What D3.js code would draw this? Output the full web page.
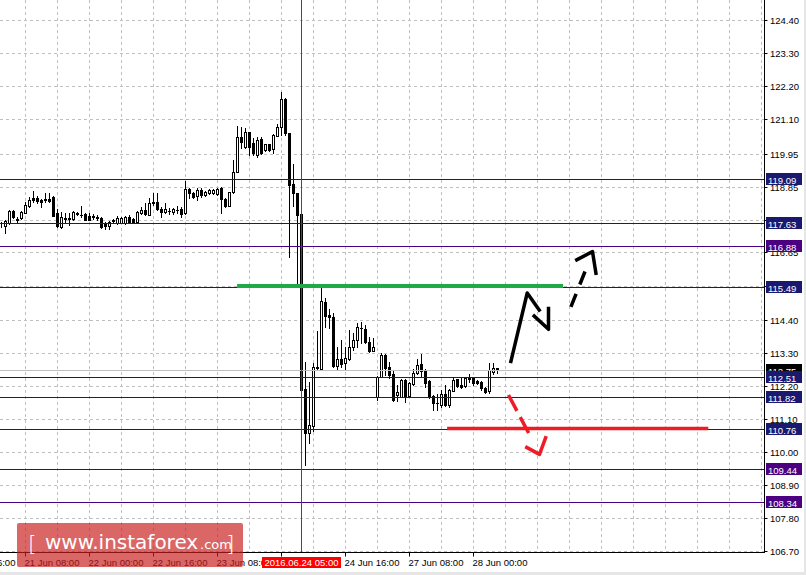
<!DOCTYPE html>
<html>
<head>
<meta charset="utf-8">
<script src="https://cdn.jsdelivr.net/npm/d3@7/dist/d3.min.js"></script>
<style>
  body { margin: 0; background: #fff; }
  svg { display: block; font-family: "Liberation Sans", Arial, sans-serif; }
</style>
</head>
<body>
<script>
// USDJPY H1, 21-28 Jun 2016 (bar 0 = 21 Jun 02:00)
var opens = [
  117.62,117.53,117.62,118.04,117.77,117.79,117.98,118.20,118.46,118.47,
  118.40,118.43,118.43,118.51,117.96,117.51,117.81,117.81,117.76,117.98,
  117.91,117.92,117.87,117.86,117.84,117.81,117.62,117.54,117.71,117.64,
  117.64,117.64,117.84,117.76,117.68,117.98,118.07,117.90,118.34,118.32,
  118.10,117.99,118.04,117.99,118.06,118.10,117.96,118.76,118.62,118.53,
  118.73,118.57,118.62,118.62,118.60,118.79,118.42,118.21,118.66,119.34,
  120.49,120.16,120.66,120.29,119.90,120.43,120.07,120.26,120.09,120.54,
  120.82,121.76,120.62,118.92,118.62,117.93,112.09,110.64,110.88,112.81,
  112.76,115.01,114.57,114.51,112.88,113.09,112.96,113.09,113.49,113.73,
  114.13,114.09,113.68,113.38,111.82,112.51,113.23,112.82,112.60,111.90,
  111.84,112.40,111.87,112.26,112.62,112.93,112.73,112.37,111.87,111.63,
  111.57,111.93,111.57,112.04,112.42,112.23,112.21,112.44,112.46,112.37,
  112.33,112.14,112.04,112.68,112.79
];
var highs = [
  117.68,117.73,118.07,118.07,117.83,118.03,118.34,118.51,118.70,118.53,
  118.43,118.64,118.62,118.53,118.09,118.01,117.98,117.96,118.03,118.01,
  118.20,117.98,117.96,117.92,117.90,117.83,117.68,117.71,117.76,117.87,
  117.83,117.87,117.89,117.79,118.03,118.18,118.29,118.46,118.62,118.62,
  118.18,118.29,118.12,118.14,118.20,118.18,119.04,118.79,118.67,118.79,
  118.79,118.70,118.77,118.78,118.80,118.82,118.46,118.67,119.73,120.87,
  120.84,120.79,120.68,120.46,120.49,120.49,120.27,120.27,120.59,120.92,
  122.01,121.80,120.63,119.59,118.63,118.00,113.01,112.34,112.97,114.02,
  115.49,115.12,114.76,114.62,113.51,113.73,113.51,114.07,113.96,114.31,
  114.34,114.23,113.84,113.79,112.53,113.31,113.27,113.00,112.73,112.23,
  112.42,112.42,112.32,112.76,113.09,113.27,112.77,112.40,111.90,111.93,
  112.07,112.23,112.10,112.46,112.44,112.46,112.49,112.60,112.47,112.40,
  112.36,112.17,112.96,112.98,112.80
];
var lows = [
  117.49,117.31,117.60,117.79,117.67,117.77,117.97,118.17,118.34,118.29,
  118.18,118.34,118.33,117.87,117.51,117.48,117.68,117.57,117.73,117.90,
  117.84,117.72,117.72,117.76,117.74,117.46,117.42,117.42,117.64,117.60,
  117.62,117.60,117.62,117.62,117.66,117.92,117.90,117.89,118.23,118.08,
  117.84,117.96,117.92,117.94,117.97,117.84,117.93,118.48,118.46,118.40,
  118.51,118.53,118.60,118.60,118.57,117.96,118.18,118.20,118.63,119.32,
  120.12,120.13,119.90,119.90,119.84,119.93,120.04,120.04,119.96,120.53,
  120.57,120.57,116.51,118.20,115.57,112.00,109.57,110.31,110.71,112.73,
  112.73,114.18,114.12,112.84,112.76,112.84,112.73,113.07,113.40,113.51,
  113.62,113.62,113.34,113.37,111.73,112.49,112.57,112.47,111.71,111.71,
  111.82,111.68,111.84,112.23,112.60,112.51,112.18,111.79,111.40,111.40,
  111.49,111.54,111.51,112.03,112.18,112.13,112.18,112.34,112.23,112.27,
  112.07,111.98,111.98,112.60,112.62
];
var closes = [
  117.63,117.70,118.04,117.82,117.73,118.01,118.23,118.40,118.40,118.38,
  118.34,118.40,118.38,117.88,117.54,117.82,117.76,117.76,118.01,117.92,
  117.90,117.73,117.73,117.84,117.79,117.51,117.54,117.68,117.72,117.79,
  117.81,117.84,117.64,117.68,117.99,118.07,117.93,118.29,118.29,118.10,
  117.99,118.09,118.03,118.10,118.07,117.92,118.76,118.62,118.51,118.73,
  118.57,118.66,118.73,118.73,118.77,118.42,118.21,118.66,119.34,120.49,
  120.32,120.66,120.16,119.96,120.40,119.96,120.26,120.07,120.57,120.82,
  121.76,120.62,118.90,118.62,117.90,112.07,110.64,110.90,112.84,112.84,
  115.04,114.54,114.49,112.88,113.09,112.93,113.14,113.51,113.73,114.16,
  114.12,113.68,113.38,113.49,112.51,113.23,112.79,112.57,111.73,112.01,
  112.40,111.87,112.30,112.64,112.90,112.71,112.29,111.87,111.64,111.62,
  111.93,111.57,112.07,112.40,112.21,112.18,112.46,112.46,112.31,112.29,
  112.12,112.01,112.73,112.79,112.75
];

var priceTicks = [124.40, 123.30, 122.20, 121.10, 119.95, 118.85, 117.75, 116.65, 115.55,
                  114.40, 113.30, 112.20, 111.10, 110.00, 108.90, 107.80, 106.70];
var timeTickBars = [-10, 6, 22, 38, 54, 70, 86, 102, 118];
var timeTickLabels = ["20 Jun 16:00", "21 Jun 08:00", "22 Jun 00:00", "22 Jun 16:00", "23 Jun 08:00",
                      "24 Jun 00:00", "24 Jun 16:00", "27 Jun 08:00", "28 Jun 00:00"];

var blueLevels = [119.09, 117.63, 115.49, 112.51, 111.82, 110.76];
var purpleLevels = [116.88, 109.44, 108.34];

var crossBar = 75, crossLabel = "2016.06.24 05:00";

// drawn objects, [bar, price]
var greenLine = [[58.9, 115.53], [140.4, 115.53]];
var redLine = [[111.4, 110.78], [176.7, 110.78]];
var upStroke = [[127.25, 112.96], [131.43, 115.30], [134.68, 114.68]];
var upHead = [[132.85, 114.57], [136.75, 114.09], [136.75, 114.84]];
var upDashed = [[142.35, 114.84], [146.43, 116.20]];
var upDashedHead = [[143.43, 116.38], [147.75, 116.68], [148.68, 115.90]];
var downDashed = [[126.75, 111.90], [132.6, 110.43]];
var downHead = [[130.93, 110.18], [134.5, 109.92], [136.18, 110.53]];

var width = 806, height = 575, axisX = 764.5, axisY = 552.5;

var svg = d3.select("body").append("svg")
    .attr("width", width)
    .attr("height", height);

var x = d3.scaleLinear().domain([0, 190]).range([1.5, 761.5]);
var y = d3.scaleLinear().domain([106.70, 124.40]).range([551, 20]);
function py(p) { return Math.round(y(p)) + 0.5; }

// window edge
svg.append("rect").attr("x", 0).attr("y", 572).attr("width", width).attr("height", 3).attr("fill", "#e6e6e6");
svg.append("rect").attr("x", 804).attr("y", 0).attr("width", 2).attr("height", height).attr("fill", "#e6e6e6");

// grid
var grid = svg.append("g")
    .attr("stroke", "#c0c0c0")
    .attr("stroke-dasharray", "3,3");
grid.selectAll(".hg").data(priceTicks).enter().append("line")
    .attr("x1", 0).attr("x2", axisX)
    .attr("y1", function(d) { return py(d); })
    .attr("y2", function(d) { return py(d); });
grid.selectAll(".vg").data(d3.range(6, 191, 8)).enter().append("line")
    .attr("x1", function(d) { return x(d); })
    .attr("x2", function(d) { return x(d); })
    .attr("y1", 0).attr("y2", axisY);

// candles
var bars = d3.range(opens.length).map(function(i) {
  return { i: i, o: opens[i], h: highs[i], l: lows[i], c: closes[i] };
});
var candle = svg.append("g").selectAll("g").data(bars).enter().append("g");
candle.append("line")
    .attr("x1", function(d) { return x(d.i); })
    .attr("x2", function(d) { return x(d.i); })
    .attr("y1", function(d) { return Math.round(y(d.h)); })
    .attr("y2", function(d) { return Math.round(y(d.l)) + 1; })
    .attr("stroke", "#000");
candle.each(function(d) {
  var g = d3.select(this);
  var t = Math.round(y(Math.max(d.o, d.c))), b = Math.round(y(Math.min(d.o, d.c)));
  if (b - t < 1) {
    g.append("line")
      .attr("x1", x(d.i) - 1.5).attr("x2", x(d.i) + 1.5)
      .attr("y1", t + 0.5).attr("y2", t + 0.5)
      .attr("stroke", "#000");
  } else if (d.c > d.o) {
    g.append("rect")
      .attr("x", x(d.i) - 1).attr("width", 2)
      .attr("y", t + 0.5).attr("height", b - t)
      .attr("fill", "#fff").attr("stroke", "#000");
  } else {
    g.append("rect")
      .attr("x", x(d.i) - 1.5).attr("width", 3)
      .attr("y", t).attr("height", b - t + 1)
      .attr("fill", "#000");
  }
});

// price levels
var lastPrice = closes[closes.length - 1];
svg.append("line")
    .attr("x1", 0).attr("x2", axisX)
    .attr("y1", py(lastPrice)).attr("y2", py(lastPrice))
    .attr("stroke", "#c0c0c0");

var levels = blueLevels.map(function(p) { return { p: p, color: "#191970" }; })
    .concat(purpleLevels.map(function(p) { return { p: p, color: "#4b0082" }; }));

svg.append("g").selectAll("line").data(levels).enter().append("line")
    .attr("x1", 0).attr("x2", axisX)
    .attr("y1", function(d) { return py(d.p); })
    .attr("y2", function(d) { return py(d.p); })
    .attr("stroke", function(d) { return d.color; });

// crosshair
svg.append("line")
    .attr("x1", x(crossBar)).attr("x2", x(crossBar))
    .attr("y1", 0).attr("y2", axisY)
    .attr("stroke", "#ff0000");

// drawn objects
var line = d3.line()
    .x(function(d) { return x(d[0]); })
    .y(function(d) { return y(d[1]); });

function drawPath(pts, color, w, dash) {
  svg.append("path")
      .attr("d", line(pts))
      .attr("fill", "none")
      .attr("stroke", color)
      .attr("stroke-width", w)
      .attr("stroke-dasharray", dash || null)
      .attr("stroke-linejoin", "round");
}
drawPath(greenLine, "#1faa48", 4);
drawPath(redLine, "#ee1c25", 3.5);
drawPath(upStroke, "#000", 3.5);
drawPath(upHead, "#000", 3.5);
drawPath(upDashed, "#000", 3.5, "14,10");
drawPath(upDashedHead, "#000", 3.5);
drawPath(downDashed, "#ee1c25", 3.5, "18,7");
drawPath(downHead, "#ee1c25", 3.5);

// axes
svg.append("rect").attr("x", axisX).attr("y", 0).attr("width", width - 2 - axisX).attr("height", axisY).attr("fill", "#fff");
svg.append("line").attr("x1", axisX).attr("x2", axisX).attr("y1", 0).attr("y2", axisY + 0.5).attr("stroke", "#000");
svg.append("line").attr("x1", 0).attr("x2", axisX).attr("y1", axisY).attr("y2", axisY).attr("stroke", "#000");

var yAxis = svg.append("g").attr("font-size", "9.5px");
yAxis.selectAll("line").data(priceTicks).enter().append("line")
    .attr("x1", axisX).attr("x2", axisX + 3)
    .attr("y1", function(d) { return py(d); })
    .attr("y2", function(d) { return py(d); })
    .attr("stroke", "#000");
yAxis.selectAll("text").data(priceTicks).enter().append("text")
    .attr("x", 770)
    .attr("y", function(d) { return py(d) + 3.5; })
    .text(function(d) { return d.toFixed(2); });

// crosshair time box covers the tick labels under it
var boxLeft = x(crossBar) - 39.5, boxRight = x(crossBar) + 39.5;

var xAxis = svg.append("g").attr("font-size", "9.5px");
xAxis.selectAll("line").data(timeTickBars).enter().append("line")
    .attr("x1", function(d) { return x(d); })
    .attr("x2", function(d) { return x(d); })
    .attr("y1", axisY).attr("y2", axisY + 4)
    .attr("stroke", "#000");
xAxis.selectAll("text").data(timeTickBars).enter().append("text")
    .attr("x", function(d) { return x(d) - 1; })
    .attr("y", 566)
    .text(function(d, k) { return timeTickLabels[k]; })
    .each(function(d) {
      var x0 = x(d) - 1, x1 = x0 + this.getComputedTextLength();
      if (x0 >= boxLeft && x1 <= boxRight) d3.select(this).remove();
    });

// right-side price boxes
function priceBox(p, color) {
  var g = svg.append("g");
  g.append("rect")
      .attr("x", 766).attr("y", py(p) - 6.5)
      .attr("width", 36).attr("height", 12)
      .attr("fill", color);
  g.append("text")
      .attr("x", 768).attr("y", py(p) + 4)
      .attr("font-size", "9.5px")
      .attr("fill", "#fff")
      .text(p.toFixed(2));
}
priceBox(lastPrice, "#000");
levels.forEach(function(d) { priceBox(d.p, d.color); });

// crosshair time box
var cb = svg.append("g");
cb.append("rect")
    .attr("x", boxLeft).attr("y", 557)
    .attr("width", boxRight - boxLeft).attr("height", 11)
    .attr("fill", "#ff0000");
cb.append("text")
    .attr("x", x(crossBar)).attr("y", 566)
    .attr("text-anchor", "middle")
    .attr("font-size", "9.5px")
    .attr("fill", "#fff")
    .text(crossLabel);

// watermark
var wm = svg.append("g").attr("fill", "#fff").attr("font-family", "'DejaVu Sans', Verdana, sans-serif");
wm.append("rect")
    .attr("x", 17).attr("y", 523).attr("width", 226).attr("height", 44).attr("rx", 2)
    .attr("fill", "rgba(200,30,30,0.68)");
wm.append("text").attr("x", 28).attr("y", 551).attr("font-size", "22px").attr("font-weight", 300).text("[");
wm.append("text").attr("x", 45).attr("y", 549).attr("font-size", "20px").text("www.instaforex");
wm.append("text").attr("x", 200).attr("y", 549).attr("font-size", "13px").text(".com");
wm.append("text").attr("x", 226).attr("y", 551).attr("font-size", "22px").attr("font-weight", 300).text("]");
</script>
</body>
</html>
